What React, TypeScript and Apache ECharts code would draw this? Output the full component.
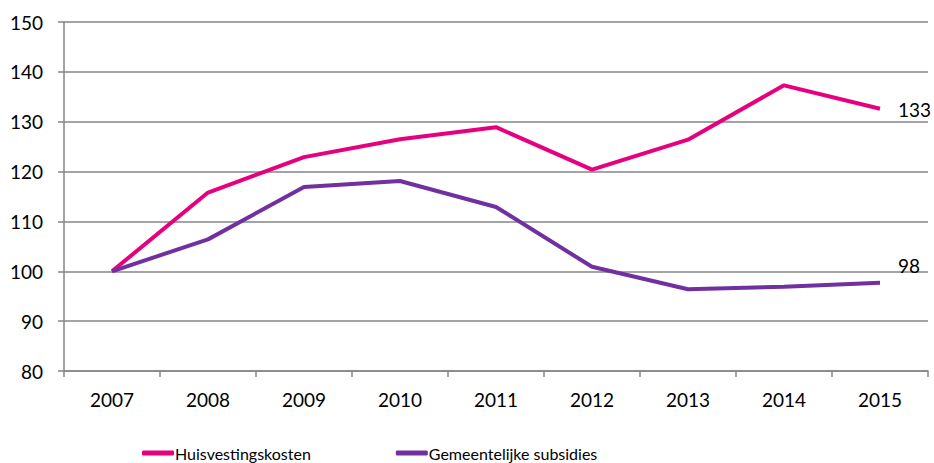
import React, { useEffect, useRef } from "react";
import * as echarts from "echarts";

const years = ["2007", "2008", "2009", "2010", "2011", "2012", "2013", "2014", "2015"];
const huisvesting = [100, 115.8, 122.9, 126.5, 128.9, 120.4, 126.4, 137.3, 132.6];
const subsidies = [100, 106.4, 116.9, 118.1, 112.9, 100.9, 96.4, 96.9, 97.7];
const seriesNames = ["Huisvestingskosten", "Gemeentelijke subsidies"];
const endLabels = ["133", "98"];
const colors = ["#E6007E", "#7030A0"];

const FONT = "Lato, 'Noto Sans', sans-serif";

function endLabel(text: string, offset: number[]) {
  return {
    show: true,
    distance: 18,
    offset,
    formatter: text,
    color: "#000",
    fontSize: 19,
    fontFamily: FONT,
  };
}

export default function App() {
  const ref = useRef<HTMLDivElement>(null);
  useEffect(() => {
    if (!ref.current) return;
    const chart = echarts.init(ref.current, undefined, { renderer: "svg" });
    chart.setOption({
      animation: false,
      textStyle: { fontFamily: FONT },
      grid: { left: 64, right: 6, top: 22, bottom: 92, containLabel: false },
      legend: {
        bottom: -3,
        left: 137,
        itemGap: 85,
        itemWidth: 32,
        itemHeight: 5,
        icon: "roundRect",
        textStyle: { fontSize: 16, color: "#000", fontFamily: FONT, padding: [0, 0, 0, -4] },
        data: seriesNames,
      },
      xAxis: {
        type: "category",
        data: years,
        boundaryGap: true,
        axisLine: { lineStyle: { color: "#868686", width: 1.5 } },
        axisTick: { show: true, length: 6, lineStyle: { color: "#868686", width: 1.5 } },
        axisLabel: { color: "#000", fontSize: 19, margin: 19, fontFamily: FONT },
        splitLine: { show: false },
      },
      yAxis: {
        type: "value",
        min: 80,
        max: 150,
        interval: 10,
        axisLine: { show: true, lineStyle: { color: "#868686", width: 1.5 } },
        axisTick: { show: true, length: 6, lineStyle: { color: "#868686", width: 1.5 } },
        axisLabel: { color: "#000", fontSize: 19, margin: 21, fontFamily: FONT },
        splitLine: { show: true, lineStyle: { color: "#868686", width: 1.5 } },
      },
      series: [
        {
          name: seriesNames[0],
          type: "line",
          data: huisvesting,
          symbol: "none",
          lineStyle: { color: colors[0], width: 4 },
          itemStyle: { color: colors[0] },
          endLabel: endLabel(endLabels[0], [0, 1]),
        },
        {
          name: seriesNames[1],
          type: "line",
          data: subsidies,
          symbol: "none",
          lineStyle: { color: colors[1], width: 4 },
          itemStyle: { color: colors[1] },
          endLabel: endLabel(endLabels[1], [0, -17]),
        },
      ],
    });
    return () => chart.dispose();
  }, []);
  return <div ref={ref} style={{ width: 934, height: 463, position: "absolute", left: 0, top: 0 }} />;
}
